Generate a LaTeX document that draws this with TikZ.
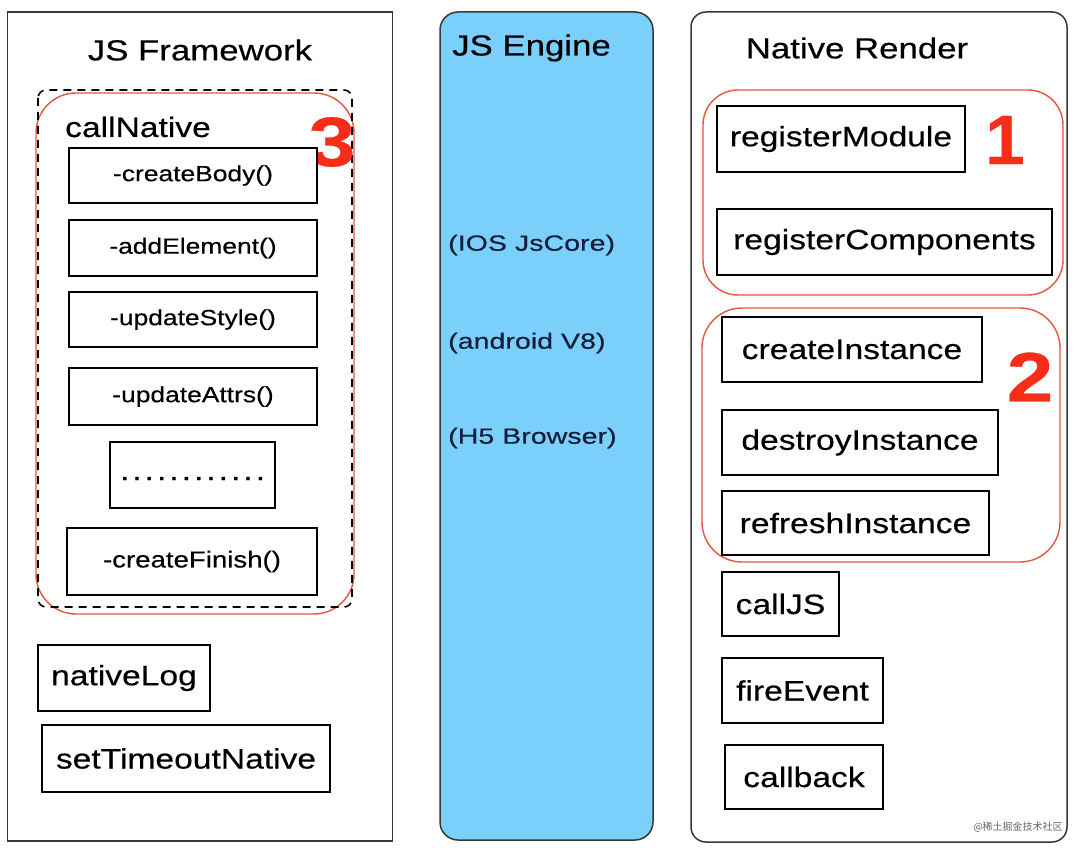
\documentclass[tikz,border=0pt]{standalone}
\usepackage{fontspec}
\setmainfont{Liberation Sans}[FakeStretch=1.2, FakeBold=0.4]
\newfontfamily\engfont{Liberation Sans}[FakeStretch=1.3, FakeBold=0.4]
\newfontfamily\cjk{Noto Sans CJK SC}
\definecolor{panelline}{RGB}{55,55,55}
\definecolor{grpred}{RGB}{228,85,65}
\definecolor{numred}{RGB}{248,45,25}
\definecolor{engblue}{RGB}{122,208,250}
\definecolor{engtext}{RGB}{20,30,60}
\tikzset{
  panel/.style={draw=panelline, line width=1.5pt, inner sep=0pt, outer sep=0pt},
  box/.style={draw=black, line width=1.8pt, fill=white, inner sep=0pt, outer sep=0pt},
  grp/.style={draw=grpred, line width=1.4pt},
  title/.style={font=\fontsize{29}{32}\selectfont, inner sep=0pt},
  small/.style={font=\fontsize{22}{26}\selectfont},
  big/.style={font=\fontsize{28}{32}\selectfont},
  num/.style={text=numred, font=\fontsize{70}{72}\selectfont\bfseries, inner sep=0pt},
  eng/.style={text=engtext, font=\engfont\fontsize{22}{26}\selectfont, inner sep=0pt, anchor=west}
}
\newcommand{\dotrow}{.\kern3pt.\kern3pt.\kern3pt.\kern3pt.\kern3pt.\kern3pt.\kern3pt.\kern3pt.\kern3pt.\kern3pt.\kern3pt.}
\begin{document}
\begin{tikzpicture}[x=1pt,y=-1pt]
\useasboundingbox[fill=white] (0,0) rectangle (1074,848);
% ---------- JS Framework ----------
\node[panel, minimum width=385pt, minimum height=829pt] (jsf) at (200,426.5) {};
\node[title] (jsft) at (200,50) {JS Framework};
\draw[grp, rounded corners=40pt] (36,93) rectangle (354,614);
\draw[black, line width=1.6pt, dash pattern=on 8pt off 6pt, rounded corners=8pt] (38,90) rectangle (352,607);
\node[big, anchor=base west, inner sep=0pt] (cn) at (65,137) {callNative};
\node[num] (n3) at (332,142) {3};
\node[box, small, minimum width=248pt, minimum height=55pt] (cbody) at (193,175.5) {-createBody()};
\node[box, small, minimum width=248pt, minimum height=56pt] (ael) at (193,248) {-addElement()};
\node[box, small, minimum width=248pt, minimum height=55pt] (ust) at (193,319.5) {-updateStyle()};
\node[box, small, minimum width=248pt, minimum height=57pt] (uat) at (193,396.5) {-updateAttrs()};
\node[box, minimum width=165pt, minimum height=66pt, font=\fontsize{28}{30}\selectfont] (dots) at (192.5,475) {\raisebox{-10pt}{\dotrow}};
\node[box, font=\fontsize{23}{26}\selectfont, minimum width=250pt, minimum height=67pt] (cfin) at (192,561.5) {-createFinish()};
\node[box, big, minimum width=172pt, minimum height=66pt] (nlog) at (124,678) {nativeLog};
\node[box, big, minimum width=288pt, minimum height=67pt] (stn) at (186,758.5) {setTimeoutNative};
% ---------- JS Engine ----------
\node[panel, fill=engblue, rounded corners=18pt, minimum width=213pt, minimum height=828pt] (jse) at (546.5,426) {};
\node[title, anchor=west] (jset) at (452,48) {JS Engine};
\node[eng] (ios) at (448,245) {(IOS JsCore)};
\node[eng] (andr) at (448,343) {(android V8)};
\node[eng] (h5) at (448,438) {(H5 Browser)};
% ---------- Native Render ----------
\node[panel, rounded corners=15pt, minimum width=376pt, minimum height=830pt] (nr) at (879,427) {};
\node[title] (nrt) at (857,48) {Native Render};
\draw[grp, rounded corners=35pt] (703,90) rectangle (1063,295);
\node[box, big, minimum width=248pt, minimum height=66pt] (rmod) at (841,139) {registerModule};
\node[box, big, minimum width=335pt, minimum height=66pt] (rcomp) at (884.5,242) {registerComponents};
\node[num, xscale=0.85] (n1) at (1005,140) {1};
\draw[grp, rounded corners=40pt] (702,308) rectangle (1060,562);
\node[box, big, minimum width=260pt, minimum height=65pt] (cins) at (852,349.5) {createInstance};
\node[box, big, minimum width=276pt, minimum height=65pt] (dins) at (860,442.5) {destroyInstance};
\node[box, big, minimum width=267pt, minimum height=64pt] (rins) at (855.5,523) {refreshInstance};
\node[num] (n2) at (1030,377) {2};
\node[box, big, minimum width=117pt, minimum height=64pt] (cjs) at (780.5,604) {callJS};
\node[box, big, minimum width=161pt, minimum height=65pt] (fev) at (802.5,690.5) {fireEvent};
\node[box, big, minimum width=158pt, minimum height=64pt] (cbk) at (804,777) {callback};
\node[text=gray!80!black, font=\cjk\fontsize{10}{11}\selectfont, inner sep=0pt] (wm) at (1018,827) {@稀土掘金技术社区};
\end{tikzpicture}
\end{document}
